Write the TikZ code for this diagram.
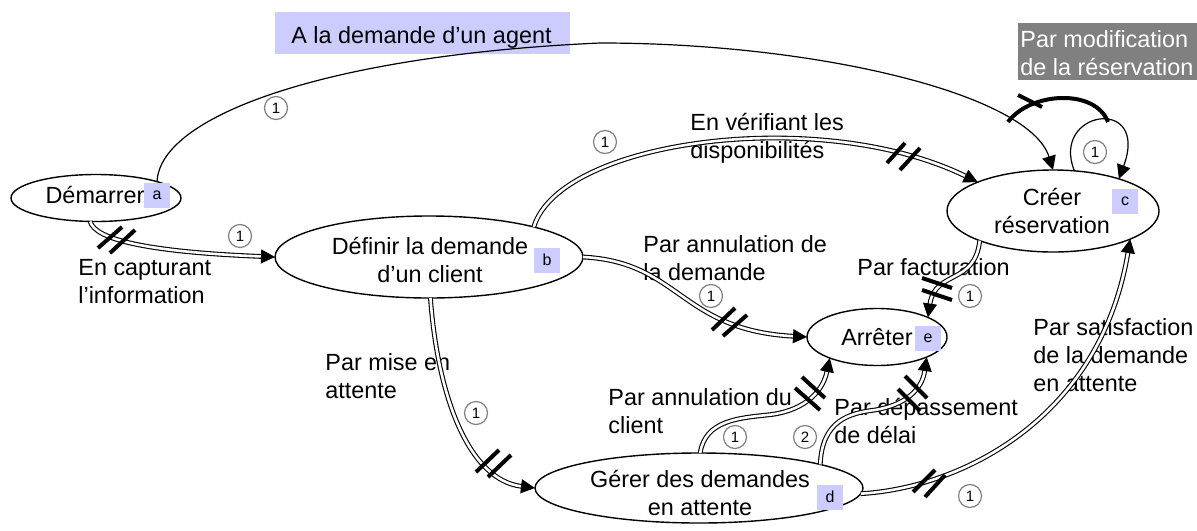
\documentclass[tikz,border=0pt]{standalone}
\usepackage{fontspec}
\setmainfont{Liberation Sans}
\usetikzlibrary{shapes.geometric,arrows.meta}
\definecolor{lav}{HTML}{CCCCFF}
\definecolor{grayc}{HTML}{808080}
\newcommand\mlC[1]{\vtop{\halign{\hfil##\hfil\cr#1\crcr}}}
\newcommand\mlL[1]{\vtop{\halign{##\hfil\cr#1\crcr}}}
\begin{document}
\begin{tikzpicture}[x=0.5pt,y=-0.5pt,
  every node/.style={font=\fontsize{11.7}{14}\selectfont},
  ell/.style={ellipse,draw,line width=0.7pt,inner sep=0pt,outer sep=0pt},
  tag/.style={fill=lav,minimum width=13pt,minimum height=12.5pt,inner sep=0pt,font=\fontsize{8}{9}\selectfont},
  num/.style={circle,draw=grayc,line width=0.6pt,minimum size=11.5pt,inner sep=0pt,font=\fontsize{7.5}{8}\selectfont},
  lbl/.style={anchor=base west,inner sep=0pt},
  ctext/.style={anchor=base,inner sep=0pt},
  dbl/.style={double,double distance=1.3pt,line width=0.55pt,-{Triangle[length=7pt,width=7pt]}},
  sgl/.style={line width=0.6pt,-{Triangle[length=7pt,width=7pt]}},
  hatch/.style={line width=2pt}]
\useasboundingbox (0,0) rectangle (1197,530);
% states
\node[ell,minimum width=85pt,minimum height=23.5pt] (a) at (96,198) {};
\node[ell,minimum width=154pt,minimum height=41pt] (b) at (429,257) {};
\node[ell,minimum width=106pt,minimum height=41pt] (c) at (1053,211) {};
\node[ell,minimum width=164pt,minimum height=35pt] (d) at (699,488) {};
\node[ell,minimum width=70pt,minimum height=28.5pt] (e) at (877,337) {};
\node[ctext] (ta) at (95,203) {Démarrer};
\node[ctext] (tb) at (430,254) {\mlC{Définir la demande\cr d’un client}};
\node[ctext] (tc) at (1052,205) {\mlC{Créer\cr réservation}};
\node[ctext] (td) at (700,487) {\mlC{Gérer des demandes\cr en attente}};
\node[ctext] (te) at (877,345) {Arrêter};
\node[tag] (ga) at (157,195) {a};
\node[tag] (gb) at (547,260) {b};
\node[tag] (gc) at (1125,201) {c};
\node[tag] (gd) at (830,497) {d};
\node[tag] (ge) at (928,338) {e};
% labels
\fill[lav] (275,12) rectangle (570,54);
\node[lbl] (l1) at (291,43) {A la demande d’un agent};
\fill[grayc] (1018,23) rectangle (1197,80);
\node[lbl,text=white] (l2) at (1020,47) {\mlL{Par modification\cr de la réservation}};
\node[lbl] (l3) at (78,275) {\mlL{En capturant\cr l’information}};
\node[lbl] (l4) at (690,130) {\mlL{En vérifiant les\cr disponibilités}};
\node[lbl] (l5) at (643,252) {\mlL{Par annulation de\cr la demande}};
\node[lbl] (l6) at (857,275) {Par facturation};
\node[lbl] (l7) at (325,370) {\mlL{Par mise en\cr attente}};
\node[lbl] (l8) at (608,405) {\mlL{Par annulation du\cr client}};
\node[lbl] (l9) at (834,415) {\mlL{Par dépassement\cr de délai}};
\node[lbl] (l10) at (1033,335) {\mlL{Par satisfaction\cr de la demande\cr en attente}};
% connectors
\draw[dbl] (a.-104) .. controls (95,240) and (150,252) .. (b.west);
\draw[sgl] (a.15) .. controls (160,115) and (330,55) .. (600,43) .. controls (820,43) and (1030,95) .. (c.north);
\draw[dbl] (b.16) .. controls (560,140) and (820,105) .. (c.159);
\draw[dbl] (b.east) .. controls (680,262) and (680,330) .. (e.west);
\draw[dbl] (c.-158) .. controls (975,285) and (935,270) .. (e.21);
\draw[dbl] (b.-88) .. controls (438,400) and (470,480) .. (d.west);
\draw[dbl] (d.88) .. controls (705,420) and (740,418) .. (767,415) .. controls (800,412) and (822,395) .. (e.-156);
\draw[dbl] (d.11) .. controls (822,420) and (850,413) .. (875,410) .. controls (905,405) and (922,390) .. (e.-22);
\draw[dbl] (d.-2) .. controls (960,488) and (1100,420) .. (c.-20);
\draw[sgl] (c.62) .. controls (1050,110) and (1150,95) .. (c.26);
\draw[line width=2pt] (1008,122) .. controls (1030,92) and (1095,88) .. (1108,122);
% hatches
\draw[hatch] (1018,95) -- (1042,107);
\draw[hatch] (98,248) -- (122,227) (110,253) -- (135,230);
\draw[hatch] (887,163) -- (905,143) (900,170) -- (920,148);
\draw[hatch] (712,330) -- (735,308) (723,336) -- (747,315);
\draw[hatch] (922,278) -- (952,288) (922,290) -- (952,300);
\draw[hatch] (476,472) -- (499,450) (488,477) -- (511,455);
\draw[hatch] (802,377) -- (825,398) (795,388) -- (820,410);
\draw[hatch] (905,376) -- (927,398) (898,389) -- (920,411);
\draw[hatch] (913,492) -- (935,470) (925,497) -- (945,475);
% multiplicities
\node[num] (n1) at (240,236) {1};
\node[num] (n2) at (276,108) {1};
\node[num] (n3) at (605,142) {1};
\node[num] (n4) at (711,296) {1};
\node[num] (n5) at (970,296) {1};
\node[num] (n6) at (476,413) {1};
\node[num] (n7) at (735,437) {1};
\node[num] (n8) at (805,437) {2};
\node[num] (n9) at (970,496) {1};
\node[num] (n10) at (1095,152) {1};
\end{tikzpicture}
\end{document}
